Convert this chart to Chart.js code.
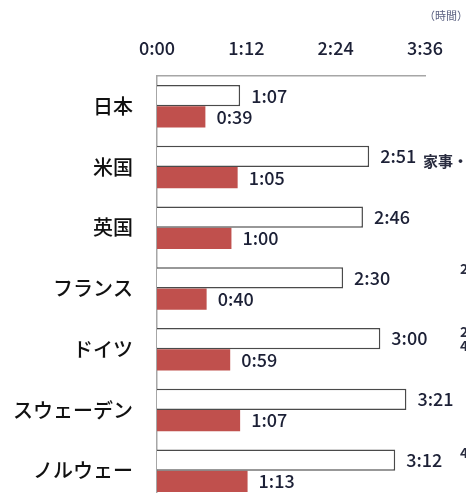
<!DOCTYPE html>
<html>
<head>
<meta charset="utf-8">
<script src="https://cdn.jsdelivr.net/npm/chart.js@4.4.0/dist/chart.umd.min.js"></script>
<style>
    html, body { margin: 0; padding: 0; background: #fff; overflow: hidden; }
    #wrap { width: 466px; height: 493px; overflow: hidden; }
</style>
</head>
<body>
<div id="wrap"><canvas id="chart" width="480" height="537"></canvas></div>
<script>
// Data (minutes per day)
const countries = ['日本', '米国', '英国', 'フランス', 'ドイツ', 'スウェーデン', 'ノルウェー'];
const totalHousework = [67, 171, 166, 150, 180, 201, 192];   // 家事・育児関連時間
const childcare = [39, 65, 60, 40, 59, 67, 73];               // うち育児の時間
const tickMinutes = [0, 72, 144, 216];

const jpFont = '"Noto Sans CJK JP", "Noto Sans", sans-serif';

function fmtTime(min) {
    const h = Math.floor(min / 60);
    const m = Math.round(min % 60);
    return h + ':' + (m < 10 ? '0' + m : m);
}

// value labels next to each bar + cropped side notes
const labelPlugin = {
    id: 'barLabels',
    afterDatasetsDraw(chart) {
        const ctx = chart.ctx;
        ctx.save();
        ctx.font = '500 18px ' + jpFont;
        ctx.fillStyle = '#1c2036';
        ctx.textAlign = 'left';
        ctx.textBaseline = 'middle';
        chart.data.datasets.forEach((ds, i) => {
            chart.getDatasetMeta(i).data.forEach((bar, j) => {
                ctx.fillText(fmtTime(ds.data[j]), bar.x + 11, bar.y);
            });
        });

        // unit note (cut at the edge)
        ctx.font = '11px ' + jpFont;
        ctx.fillStyle = '#5a6080';
        ctx.fillText('（時間）', 424, 16);

        // legend text cut off on the right
        ctx.font = 'bold 15px ' + jpFont;
        ctx.fillStyle = '#2a2d40';
        ctx.fillText('家事・育児関連時間', 423, 161);

        ctx.font = 'bold 14px ' + jpFont;
        ctx.fillText('2:', 460, 269);
        ctx.fillText('2:', 460, 332);
        ctx.fillText('4:', 460, 346);
        ctx.fillText('4:', 460, 453);
        ctx.restore();
    }
};

new Chart(document.getElementById('chart'), {
    type: 'bar',
    data: {
        labels: countries,
        datasets: [{
            label: '家事・育児関連時間',
            data: totalHousework,
            backgroundColor: '#ffffff',
            borderColor: '#4a4a4a',
            borderWidth: 1.5
        }, {
            label: 'うち育児の時間',
            data: childcare,
            backgroundColor: '#c0504d',
            borderWidth: 0
        }]
    },
    options: {
        indexAxis: 'y',
        responsive: false,
        animation: false,
        events: [],
        layout: { padding: { left: 0, top: 0, right: 55, bottom: 17 } },
        datasets: {
            bar: { categoryPercentage: 0.7, barPercentage: 1.0 }
        },
        plugins: {
            legend: { display: false },
            tooltip: { enabled: false }
        },
        scales: {
            x: {
                position: 'top',
                min: 0,
                max: 216,
                afterBuildTicks: (scale) => {
                    scale.ticks = tickMinutes.map(v => ({ value: v }));
                },
                afterFit: (scale) => { scale.height = 76; },
                grid: { display: false, drawTicks: false },
                border: { display: true, color: '#a6a6a6', width: 1.5 },
                ticks: {
                    padding: 17,
                    color: '#1c2036',
                    font: { family: jpFont, size: 18, weight: '500' },
                    callback: (v) => fmtTime(v)
                }
            },
            y: {
                afterFit: (scale) => { scale.width = 157; },
                grid: { display: false, drawTicks: false },
                border: { display: true, color: '#a6a6a6', width: 1.5 },
                ticks: {
                    padding: 24,
                    color: '#111111',
                    font: { family: jpFont, size: 20, weight: '500' }
                }
            }
        }
    },
    plugins: [labelPlugin]
});
</script>
</body>
</html>
